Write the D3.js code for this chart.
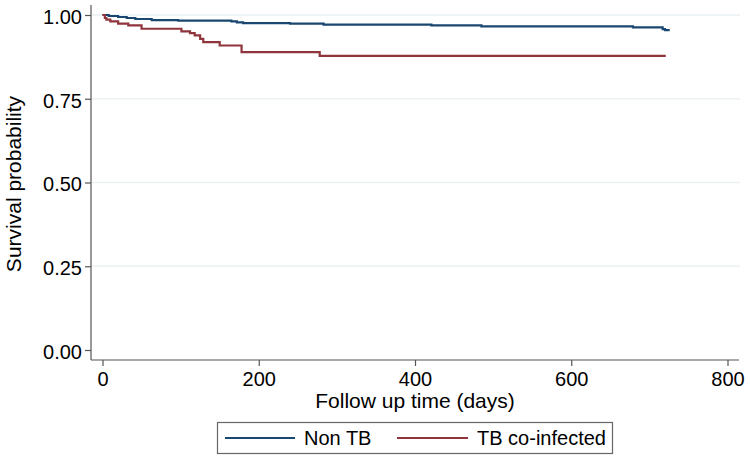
<!DOCTYPE html>
<html>
<head>
<meta charset="utf-8">
<script src="https://cdn.jsdelivr.net/npm/d3@7"></script>
<style>
  html, body { margin: 0; padding: 0; background: #fff; }
  svg { display: block; font-family: "Liberation Sans", Arial, sans-serif; }
</style>
</head>
<body>
<svg id="chart" width="750" height="456"></svg>
<script>
// ---- data ----
const seriesNames = ["Non TB", "TB co-infected"];
// Non TB: step times (days) and survival after each step
const nonTbDays = [0, 8, 20, 31, 42, 63, 97, 165, 172, 180, 240, 283, 421, 485, 679, 717, 720, 726];
const nonTbSurv = [1.0, 0.997, 0.994, 0.991, 0.988, 0.985, 0.983, 0.981, 0.978, 0.976, 0.974, 0.971, 0.969, 0.966, 0.963, 0.958, 0.955, 0.955];
// TB co-infected
const tbDays = [0, 3, 5, 10, 20, 33, 50, 101, 112, 118, 125, 129, 150, 178, 278, 721];
const tbSurv = [1.0, 0.991, 0.986, 0.981, 0.974, 0.969, 0.959, 0.951, 0.946, 0.939, 0.929, 0.919, 0.909, 0.889, 0.878, 0.878];
const xTicks = [0, 200, 400, 600, 800];
const yTicks = [0, 0.25, 0.5, 0.75, 1.0];
const yTickLabels = ["0.00", "0.25", "0.50", "0.75", "1.00"];
const colors = ["#1a476f", "#90353b"];

// ---- layout ----
const svg = d3.select("#chart");
const x = d3.scaleLinear().domain([0, 800]).range([102.5, 727.5]);
const y = d3.scaleLinear().domain([0, 1]).range([350, 15]);
const plotLeft = 91, plotRight = 739, plotTop = 5, plotBottom = 360;
const fontSize = 20;
const titleSize = 21;

// grid lines
svg.append("g").selectAll("line")
  .data(yTicks.filter(d => d > 0))
  .join("line")
  .attr("x1", plotLeft).attr("x2", plotRight + 1)
  .attr("y1", d => y(d)).attr("y2", d => y(d))
  .attr("stroke", "#eaf2f3").attr("stroke-width", 1.5);

// axes
const axisColor = "#555";
const yAxis = d3.axisLeft(y).tickValues(yTicks).tickFormat((d, i) => yTickLabels[i]).tickSize(6).tickPadding(3);
const gy = svg.append("g").attr("transform", `translate(${plotLeft},0)`).call(yAxis);
gy.select(".domain").remove();
gy.selectAll(".tick line").attr("stroke", axisColor).attr("stroke-width", 1.2);
gy.selectAll(".tick text").attr("font-size", fontSize).attr("fill", "#000")
  .attr("font-family", "Liberation Sans, Arial, sans-serif").attr("dy", "0.42em");

const xAxis = d3.axisBottom(x).tickValues(xTicks).tickFormat(d3.format("d")).tickSize(6).tickPadding(6);
const gx = svg.append("g").attr("transform", `translate(0,${plotBottom})`).call(xAxis);
gx.select(".domain").remove();
gx.selectAll(".tick line").attr("stroke", axisColor).attr("stroke-width", 1.2);
gx.selectAll(".tick text").attr("font-size", fontSize).attr("fill", "#000")
  .attr("font-family", "Liberation Sans, Arial, sans-serif");

// axis lines
svg.append("line").attr("x1", plotLeft).attr("x2", plotLeft).attr("y1", plotTop).attr("y2", plotBottom)
  .attr("stroke", axisColor).attr("stroke-width", 1.2);
svg.append("line").attr("x1", plotLeft).attr("x2", plotRight).attr("y1", plotBottom).attr("y2", plotBottom)
  .attr("stroke", axisColor).attr("stroke-width", 1.2);

// curves
const line = d3.line().x(d => x(d[0])).y(d => y(d[1])).curve(d3.curveStepAfter);
const series = [
  nonTbDays.map((d, i) => [d, nonTbSurv[i]]),
  tbDays.map((d, i) => [d, tbSurv[i]])
];
series.forEach((s, i) => {
  svg.append("path").datum(s).attr("d", line)
    .attr("fill", "none").attr("stroke", colors[i]).attr("stroke-width", 2.2);
});

// axis titles
svg.append("text").attr("x", 415).attr("y", 408).attr("text-anchor", "middle")
  .attr("font-size", titleSize).text("Follow up time (days)");
svg.append("text").attr("transform", "translate(21,184) rotate(-90)").attr("text-anchor", "middle")
  .attr("font-size", titleSize).text("Survival probability");

// legend
const lg = svg.append("g");
lg.append("rect").attr("x", 217.5).attr("y", 422.5).attr("width", 395).attr("height", 31)
  .attr("fill", "#fff").attr("stroke", "#666").attr("stroke-width", 1.2);
const legendItems = [
  { x1: 225, x2: 295, tx: 304 },
  { x1: 397, x2: 468, tx: 477 }
];
legendItems.forEach((it, i) => {
  lg.append("line").attr("x1", it.x1).attr("x2", it.x2).attr("y1", 438).attr("y2", 438)
    .attr("stroke", colors[i]).attr("stroke-width", 2);
  lg.append("text").attr("x", it.tx).attr("y", 445).attr("font-size", fontSize).text(seriesNames[i]);
});
</script>
</body>
</html>
